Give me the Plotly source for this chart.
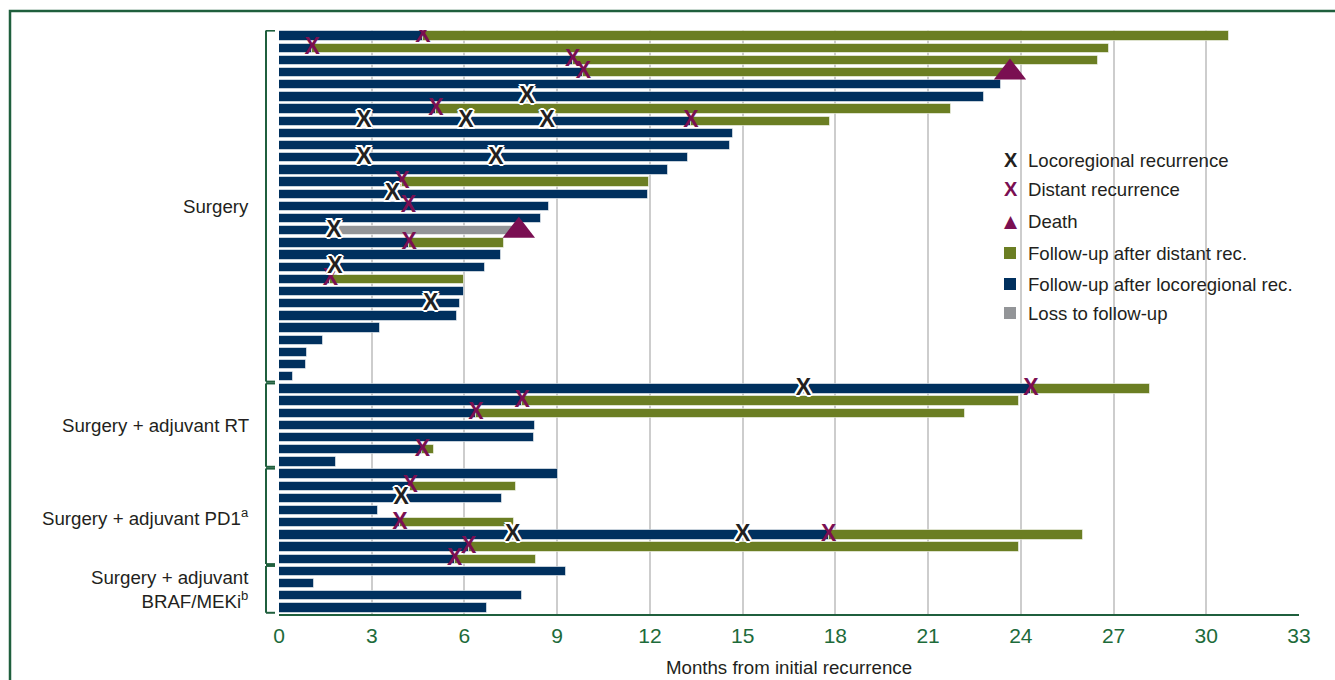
import plotly.graph_objects as go

# ---- data -------------------------------------------------------------
groups = [
    "Surgery",
    "Surgery + adjuvant RT",
    "Surgery + adjuvant PD1<sup>a</sup>",
    "Surgery + adjuvant<br>BRAF/MEKi<sup>b</sup>",
]
group_sizes = [29, 7, 8, 4]

# end of the navy segment (follow-up after locoregional recurrence), months
navy_end = [
    4.66, 1.07, 9.5, 9.85, 23.36, 22.81, 5.08, 13.33, 14.69, 14.6,
    13.24, 12.59, 3.98, 11.94, 8.73, 8.49, 1.78, 4.21, 7.17, 6.67,
    1.66, 5.98, 5.85, 5.75, 3.28, 1.43, 0.9, 0.87, 0.44,
    24.33, 7.87, 6.37, 8.28, 8.24, 4.64, 1.83,
    9.03, 4.24, 7.23, 3.21, 3.91, 17.78, 6.14, 5.68,
    9.3, 1.13, 7.85, 6.73,
]
# end of the olive segment (follow-up after distant recurrence), months
olive_end = [
    30.73, 26.85, 26.49, 23.5, None, None, 21.75, 17.82, None, None,
    None, None, 11.98, None, None, None, None, 7.27, None, None,
    5.98, None, None, None, None, None, None, None, None,
    28.19, 23.94, 22.2, None, None, 5.01, None,
    None, 7.66, None, None, 7.61, 26.0, 23.94, 8.31,
    None, None, None, None,
]
# end of the grey segment (loss to follow-up), months
grey_end = [None] * 16 + [7.6] + [None] * 31

# locoregional recurrences, months
locoregional = [
    [], [], [], [], [], [8.02], [], [2.75, 6.05, 8.68], [], [],
    [2.75, 7.02], [], [], [3.67], [], [], [1.78], [], [], [1.81],
    [], [], [4.91], [], [], [], [], [], [],
    [16.97], [], [], [], [], [], [],
    [], [], [3.95], [], [], [7.56, 15.0], [], [],
    [], [], [], [],
]
# distant recurrences, months
distant = [
    4.66, 1.07, 9.5, 9.85, None, None, 5.08, 13.33, None, None,
    None, None, 3.98, None, 4.19, None, None, 4.21, None, None,
    1.66, None, None, None, None, None, None, None, None,
    24.33, 7.87, 6.37, None, None, 4.64, None,
    None, 4.24, None, None, 3.91, 17.78, 6.14, 5.68,
    None, None, None, None,
]
# deaths, months
deaths = [None] * 3 + [23.65] + [None] * 12 + [7.76] + [None] * 31

legend_items = [
    ("Locoregional recurrence", "xblack"),
    ("Distant recurrence", "xmaroon"),
    ("Death", "triangle"),
    ("Follow-up after distant rec.", "olive"),
    ("Follow-up after locoregional rec.", "navy"),
    ("Loss to follow-up", "grey"),
]

# ---- styling ----------------------------------------------------------
NAVY = "#00305E"
OLIVE = "#6B7E23"
GREY = "#939598"
MAROON = "#7A0F52"
INK = "#231F20"
FRAME = "#1F5F3D"
TICK = "#1D6B3A"
FONT = "Liberation Sans, Arial, sans-serif"

W, H = 1335, 680
L, R, T, B = 279, 36, 30, 66
PW, PH = W - L - R, H - T - B


def px(xpix):
    return (xpix - L) / PW


def py(ypix):
    return (H - B - ypix) / PH


rows = list(range(len(navy_end)))
BAR_W = 0.76
bar_line = dict(color="rgba(255,255,255,0.55)", width=1)

fig = go.Figure()

fig.add_trace(go.Bar(
    y=rows, x=navy_end, base=0, orientation="h", width=BAR_W,
    marker=dict(color=NAVY, line=bar_line), showlegend=False,
))

o_rows = [r for r in rows if olive_end[r] is not None]
fig.add_trace(go.Bar(
    y=o_rows, base=[navy_end[r] for r in o_rows],
    x=[olive_end[r] - navy_end[r] for r in o_rows],
    orientation="h", width=BAR_W,
    marker=dict(color=OLIVE, line=bar_line), showlegend=False,
))

g_rows = [r for r in rows if grey_end[r] is not None]
fig.add_trace(go.Bar(
    y=g_rows, base=[navy_end[r] for r in g_rows],
    x=[grey_end[r] - navy_end[r] for r in g_rows],
    orientation="h", width=BAR_W,
    marker=dict(color=GREY, line=bar_line), showlegend=False,
))

outline = ", ".join(
    f"{dx}px {dy}px 0 #fff"
    for dx, dy in [(2, 0), (-2, 0), (0, 2), (0, -2),
                   (1.5, 1.5), (-1.5, -1.5), (1.5, -1.5), (-1.5, 1.5)]
)

d_rows = [r for r in rows if distant[r] is not None]
fig.add_trace(go.Scatter(
    x=[distant[r] for r in d_rows], y=d_rows, mode="text",
    text=["<b>X</b>"] * len(d_rows), textposition="middle center",
    textfont=dict(family=FONT, size=23, color=MAROON),
    showlegend=False, hoverinfo="skip",
))

lx, ly = [], []
for r in rows:
    for v in locoregional[r]:
        lx.append(v)
        ly.append(r)
fig.add_trace(go.Scatter(
    x=lx, y=ly, mode="text", text=["<b>X</b>"] * len(lx),
    textposition="middle center",
    textfont=dict(family=FONT, size=23, color=INK, shadow=outline),
    showlegend=False, hoverinfo="skip",
))

de_rows = [r for r in rows if deaths[r] is not None]
fig.add_trace(go.Scatter(
    x=[deaths[r] for r in de_rows], y=de_rows, mode="markers",
    marker=dict(symbol="triangle-up", size=28, color=MAROON),
    showlegend=False, hoverinfo="skip",
))

# ---- group labels and brackets ---------------------------------------
annotations = []
shapes = []
start = 0
for name, n in zip(groups, group_sizes):
    first, last = start, start + n - 1
    annotations.append(dict(
        x=px(251), y=(first + last) / 2, xref="paper", yref="y",
        text=name, showarrow=False, xanchor="right", yanchor="middle",
        align="right", font=dict(family=FONT, size=18.7, color=INK),
    ))
    top, bot = first - 0.45, last + 0.4
    shapes.append(dict(type="line", xref="paper", yref="y",
                       x0=px(266), x1=px(266), y0=top, y1=bot,
                       line=dict(color=FRAME, width=2)))
    for yy in (top, bot):
        shapes.append(dict(type="line", xref="paper", yref="y",
                           x0=px(266), x1=px(275), y0=yy, y1=yy,
                           line=dict(color=FRAME, width=2)))
    start += n

# ---- legend -----------------------------------------------------------
leg_y = [160, 189, 221, 253, 284, 313]
for (label, kind), yy in zip(legend_items, leg_y):
    annotations.append(dict(
        x=px(1026), y=py(yy), xref="paper", yref="paper", text=label,
        showarrow=False, xanchor="left", yanchor="middle",
        font=dict(family=FONT, size=18.6, color=INK),
    ))
    if kind in ("xblack", "xmaroon"):
        annotations.append(dict(
            x=px(1011), y=py(yy), xref="paper", yref="paper",
            text="<b>X</b>", showarrow=False, xanchor="center",
            yanchor="middle",
            font=dict(family=FONT, size=20,
                      color=INK if kind == "xblack" else MAROON),
        ))
    elif kind == "triangle":
        annotations.append(dict(
            x=px(1011), y=py(yy), xref="paper", yref="paper", text="▲",
            showarrow=False, xanchor="center", yanchor="middle",
            font=dict(family="DejaVu Sans", size=17, color=MAROON),
        ))
    else:
        col = {"olive": OLIVE, "navy": NAVY, "grey": GREY}[kind]
        shapes.append(dict(type="rect", xref="paper", yref="paper",
                           x0=px(1004), x1=px(1016),
                           y0=py(yy + 6), y1=py(yy - 6),
                           fillcolor=col, line=dict(width=0)))

# outer frame
shapes.append(dict(type="rect", xref="paper", yref="paper",
                   x0=px(10), x1=px(1360), y0=py(720), y1=py(11),
                   line=dict(color=FRAME, width=2.5), fillcolor="rgba(0,0,0,0)",
                   layer="above"))

fig.update_layout(
    width=W, height=H,
    margin=dict(l=L, r=R, t=T, b=B, pad=0),
    paper_bgcolor="white", plot_bgcolor="white",
    barmode="overlay", bargap=0,
    showlegend=False,
    font=dict(family=FONT, color=INK),
    annotations=annotations, shapes=shapes,
    xaxis=dict(
        range=[0, 33], tick0=0, dtick=3, showgrid=True, automargin=False,
        gridcolor="#CDCDCD", gridwidth=2, zeroline=False,
        showline=True, linecolor=FRAME, linewidth=2,
        ticks="outside", ticklen=2, tickcolor="rgba(0,0,0,0)",
        tickfont=dict(family=FONT, size=21, color=TICK),
        title=dict(text="Months from initial recurrence",
                   font=dict(family=FONT, size=18.7, color=INK), standoff=15),
    ),
    yaxis=dict(
        range=[len(rows) - 0.5, -0.5], showgrid=False, zeroline=False,
        automargin=False,
        showticklabels=False, showline=False, ticks="",
    ),
)

fig.write_html("out.html")
